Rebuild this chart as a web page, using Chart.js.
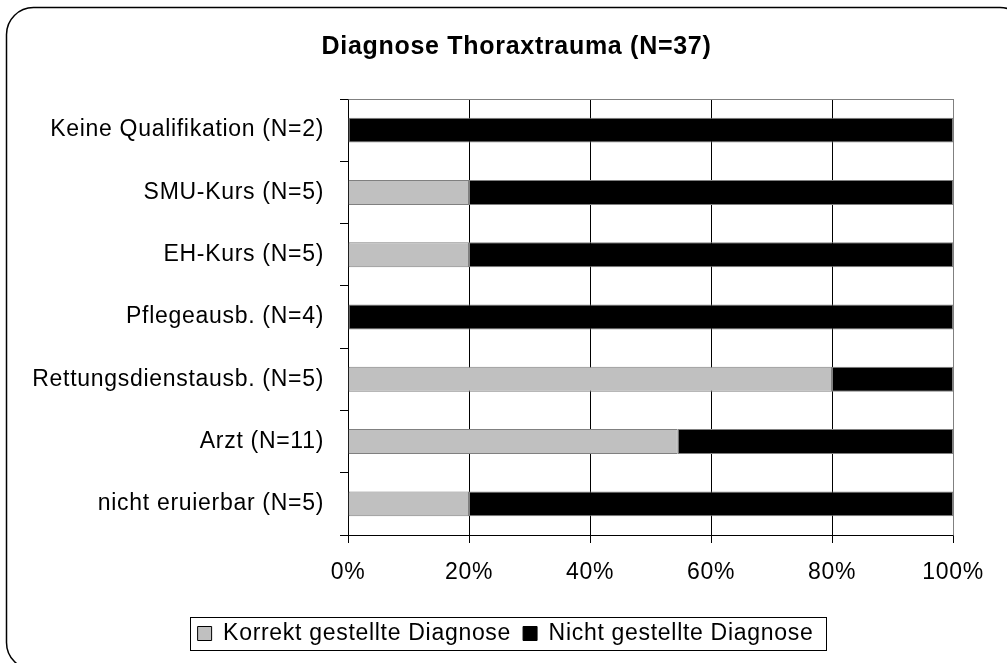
<!DOCTYPE html>
<html>
<head>
<meta charset="utf-8">
<script src="https://cdn.jsdelivr.net/npm/chart.js@4"></script>
<style>
html,body{margin:0;padding:0;background:#fff;}
#wrap{width:1007px;height:663px;position:relative;}
</style>
</head>
<body>
<div id="wrap"><canvas id="c" width="1007" height="663"></canvas></div>
<script>
const categories = ["Keine Qualifikation (N=2)","SMU-Kurs (N=5)","EH-Kurs (N=5)","Pflegeausb. (N=4)","Rettungsdienstausb. (N=5)","Arzt (N=11)","nicht eruierbar (N=5)"];
const correctPct = [0, 20, 20, 0, 80, 54.5, 20];
const notPct = [100, 80, 80, 100, 20, 45.5, 80];
const xTicks = [0, 20, 40, 60, 80, 100];
const seriesNames = ["Korrekt gestellte Diagnose", "Nicht gestellte Diagnose"];
const titleText = "Diagnose Thoraxtrauma (N=37)";

const FONT = "'Liberation Sans', Arial, Helvetica, sans-serif";

const framePlugin = {
  id: 'frame',
  beforeUpdate(chart) { chart.ctx.letterSpacing = '0.7px'; },
  afterLayout(chart) {
    const t = chart.titleBlock;
    if (t) { t.left += 35; t.right += 35; }
    const lg = chart.legend;
    if (lg) { lg.left += 24; lg.right += 24; }
  },
  beforeDraw(chart) {
    const ctx = chart.ctx;
    ctx.letterSpacing = '0.7px';
    ctx.save();
    ctx.fillStyle = '#fff';
    ctx.fillRect(0, 0, chart.width, chart.height);
    ctx.restore();
  },
  afterDraw(chart) {
    const ctx = chart.ctx;
    const a = chart.chartArea;
    ctx.save();
    ctx.strokeStyle = '#808080';
    ctx.lineWidth = 1;
    ctx.beginPath();
    ctx.moveTo(Math.round(a.left) + 0.5, Math.round(a.top) + 0.5);
    ctx.lineTo(Math.round(a.right) + 0.5, Math.round(a.top) + 0.5);
    ctx.lineTo(Math.round(a.right) + 0.5, Math.round(a.bottom) + 0.5);
    ctx.stroke();
    ctx.strokeStyle = '#000';
    ctx.lineWidth = 1.5;
    ctx.beginPath();
    ctx.roundRect(6.5, 7.5, 1020.5, 662, 27);
    ctx.stroke();
    const lg = chart.legend;
    if (lg && lg.legendHitBoxes && lg.legendHitBoxes.length) {
      let l = Infinity, r = -Infinity, t = Infinity, b = -Infinity;
      lg.legendHitBoxes.forEach(h => {
        l = Math.min(l, h.left); r = Math.max(r, h.left + h.width);
        t = Math.min(t, h.top); b = Math.max(b, h.top + h.height);
      });
      ctx.strokeStyle = '#000';
      ctx.lineWidth = 1;
      const cy = (t + b) / 2;
      ctx.strokeRect(Math.round(l - 8) + 0.5, Math.round(cy - 17) + 0.5, Math.round(r - l + 20), 33);
    }
    ctx.restore();
  }
};

new Chart(document.getElementById('c'), {
  type: 'bar',
  data: {
    labels: categories,
    datasets: [
      { label: seriesNames[0], data: correctPct, backgroundColor: '#c0c0c0', borderColor: '#808080', borderWidth: 1, borderSkipped: false, barPercentage: 0.4, categoryPercentage: 1 },
      { label: seriesNames[1], data: notPct, backgroundColor: '#000000', borderColor: '#808080', borderWidth: 1, borderSkipped: false, barPercentage: 0.4, categoryPercentage: 1 }
    ]
  },
  options: {
    indexAxis: 'y',
    responsive: false,
    animation: false,
    devicePixelRatio: 1,
    layout: { padding: { top: 8, left: 10, right: 54, bottom: 8 } },
    plugins: {
      title: {
        display: true, text: titleText, color: '#000',
        font: { family: FONT, size: 25, weight: 'bold' },
        padding: { top: 24, bottom: 37 }
      },
      legend: {
        display: true, position: 'bottom',
        labels: {
          color: '#000', font: { family: FONT, size: 23 },
          boxWidth: 14, boxHeight: 14, padding: 12,
          generateLabels(chart) {
            return Chart.defaults.plugins.legend.labels.generateLabels(chart).map(l => Object.assign(l, { strokeStyle: '#000', lineWidth: 1 }));
          }
        }
      },
      tooltip: { enabled: false }
    },
    scales: {
      x: {
        stacked: true, min: 0, max: 100,
        afterBuildTicks(scale) { scale.ticks = xTicks.map(v => ({ value: v })); },
        ticks: { color: '#000', font: { family: FONT, size: 23 }, padding: 16, callback: v => v + '%' },
        grid: {
          color: ctx => (ctx.tick && ctx.tick.value === 100) ? '#808080' : '#000',
          lineWidth: 1, drawTicks: true, tickLength: 8, tickColor: '#000'
        },
        border: { display: true, color: '#000' },
        afterFit(scale) { scale.height = 75; }
      },
      y: {
        stacked: true,
        ticks: { color: '#000', font: { family: FONT, size: 23 }, padding: 16 },
        grid: { offset: true, drawOnChartArea: false, drawTicks: true, tickLength: 8, color: '#000' },
        border: { display: true, color: '#000' },
        afterFit(scale) { scale.width = 338; }
      }
    }
  },
  plugins: [framePlugin]
});
</script>
</body>
</html>
